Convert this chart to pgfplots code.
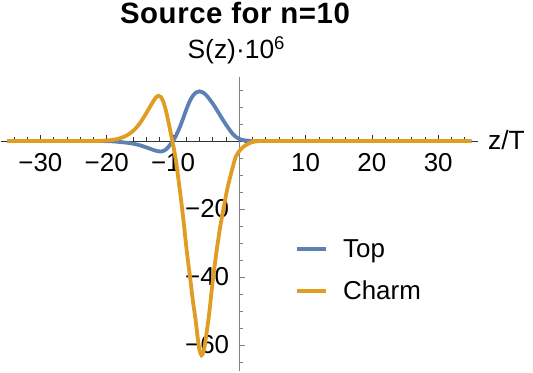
\documentclass[border=0pt]{standalone}
\usepackage{pgfplots}
\pgfplotsset{compat=1.18}
\usepackage{fontspec}
\setmainfont{Liberation Sans}
\definecolor{mblue}{rgb}{0.368417,0.506779,0.709798}
\definecolor{morange}{rgb}{0.880722,0.611041,0.142051}
\begin{document}
\begin{tikzpicture}
\useasboundingbox (0,0) rectangle (533bp,373bp);
\node[anchor=base, inner sep=0pt, font=\fontsize{29.5}{36}\selectfont\bfseries\addfontfeature{LetterSpace=2}] at (235bp,349.6bp) {Source for n=10};
\begin{axis}[
  anchor=origin, at={(239.3bp,232bp)},
  x=6.63bp, y=3.4bp,
  xmin=-36, xmax=36, ymin=-67.6, ymax=18.8,
  axis lines=middle,
  axis line style={-},
  x axis line style={black!80, line width=0.9bp},
  y axis line style={black!50, line width=1.2bp},
  clip=false,
  tick align=center,
  xtick={-30,-20,-10,10,20,30},
  xticklabels={−30,−20,−10,10,20,30},
  minor xtick={-34,-32,...,34},
  ytick={-60,-40,-20},
  yticklabels={−60,−40,−20},
  minor ytick={-65,-60,...,15},
  major tick length=6bp, minor tick length=3.5bp,
  major x tick style={black!80, line width=0.7bp, yshift=3bp},
  minor x tick style={black!80, line width=0.7bp, yshift=1.75bp},
  major y tick style={black!50, line width=0.7bp, xshift=3bp},
  minor y tick style={black!50, line width=0.7bp, xshift=1.75bp},
  tick label style={font=\fontsize{26}{30}\selectfont, inner sep=0pt},
  xticklabel style={anchor=north, yshift=-9bp},
  yticklabel style={anchor=east, xshift=-7bp},
  xlabel={z/T},
  ylabel={S(z)·10\textsuperscript{6}},
  label style={font=\fontsize{26.5}{30}\selectfont, inner sep=0pt},
  x label style={at={(axis cs:36,0)}, anchor=base west, xshift=10bp, yshift=-8.3bp},
  y label style={at={(axis cs:0,18.8)}, anchor=base, rotate=0, xshift=-3bp, yshift=18.7bp},
  legend style={draw=none, fill=none, inner sep=0pt, outer sep=0pt,
    at={(axis cs:8.45,-29.0)}, anchor=north west,
    font=\fontsize{26}{30}\selectfont, row sep=22bp, column sep=15bp,
    nodes={inner sep=0pt}},
  legend cell align=left,
  legend image code/.code={\draw[#1, line width=3.8bp] (0bp,0bp) -- (29bp,0bp);},
]
\addplot[mblue, line width=3.8bp, smooth, tension=0.5] coordinates {
(-35,0) (-21,0) (-20,-0.05) (-19,-0.12) (-18,-0.3) (-17,-0.5) (-16,-0.8) (-15,-1.25)
(-14,-1.9) (-13,-2.6) (-12.3,-3.0) (-11.8,-3.1) (-11.3,-2.8) (-10.8,-2.0) (-10.4,-1.0)
(-9.9,0.3) (-9.5,1.8) (-9,3.9) (-8.5,6.5) (-8,9.2) (-7.5,11.6) (-7,13.3) (-6.5,14.3)
(-6,14.6) (-5.5,14.3) (-5,13.5) (-4.5,12.3) (-4,11.0) (-3.5,9.5) (-3,7.9) (-2.5,6.3)
(-2,4.8) (-1.5,3.4) (-1,2.1) (-0.5,1.2) (0,0.6) (0.5,0.3) (1,0.15) (2,0.03) (3,0) (35,0)
};
\addlegendentry{Top}
\addplot[morange, line width=3.8bp, smooth, tension=0.5] coordinates {
(-35,0) (-22,0) (-21,0.05) (-20,0.15) (-19,0.35) (-18,0.8) (-17,1.6) (-16,3.0) (-15,5.2)
(-14,8.3) (-13,11.6) (-12.5,13.0) (-12.2,13.3) (-11.8,12.9) (-11.4,11.2) (-11,8.4)
(-10.6,4.8) (-10.1,0) (-9.8,-3) (-9.5,-6.5) (-9.2,-11) (-8.9,-15.5) (-8.6,-20.3)
(-8.3,-25.5) (-8.0,-31) (-7.7,-36) (-7.4,-40.5) (-7.0,-47) (-6.6,-52.5) (-6.3,-57.5)
(-6.0,-61.5) (-5.7,-63) (-5.4,-62) (-5.2,-60) (-4.9,-56) (-4.5,-50) (-4.2,-44.5)
(-3.9,-39.5) (-3.4,-32) (-2.9,-25.5) (-2.4,-20) (-1.8,-14) (-1.1,-8.5) (-0.5,-4.5)
(0.25,-2.4) (1,-1.2) (2,-0.3) (3,-0.05) (4,0) (35,0)
};
\addlegendentry{Charm}
\end{axis}
\end{tikzpicture}
\end{document}
